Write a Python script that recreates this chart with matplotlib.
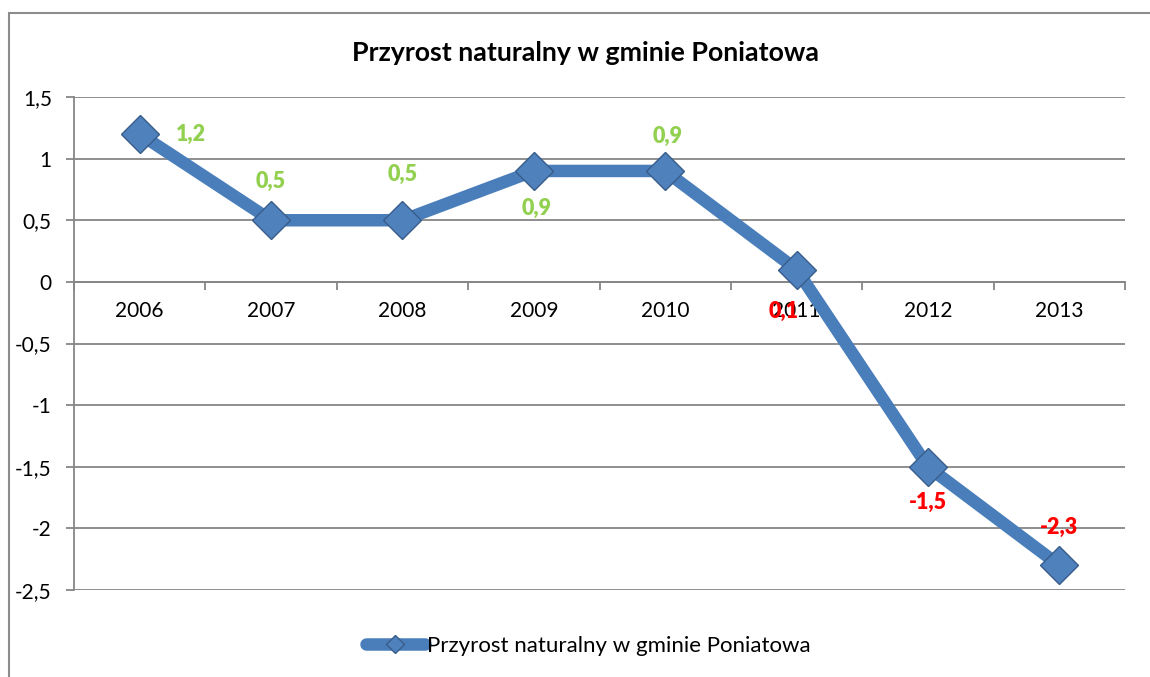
import matplotlib.pyplot as plt
import matplotlib.patches as patches
import numpy as np

plt.rcParams['font.family'] = ['Lato', 'DejaVu Sans']

years = ['2006', '2007', '2008', '2009', '2010', '2011', '2012', '2013']
values = [1.2, 0.5, 0.5, 0.9, 0.9, 0.1, -1.5, -2.3]
value_labels = ['1,2', '0,5', '0,5', '0,9', '0,9', '0,1', '-1,5', '-2,3']
label_colors = ['#92D050'] * 5 + ['#FF0000'] * 3
# label offsets in points (dx, dy)
label_offsets = [(37, 0), (0, 28), (0, 33), (2, -27), (2, 25), (-9, -30), (0, -26), (0, 27)]

series_name = 'Przyrost naturalny w gminie Poniatowa'

fig = plt.figure(figsize=(11.5, 6.77), dpi=100)
fig.patch.set_facecolor('white')

# outer chart border
fig.patches.append(patches.Rectangle((9 / 1150, -0.2), 1.2, 1.2 - 13 / 677,
                                     transform=fig.transFigure, fill=False,
                                     edgecolor='#8C8C8C', linewidth=1.5))

ax = fig.add_axes([74 / 1150, 1 - 590 / 677, (1125 - 74) / 1150, (590 - 97) / 677])

x = np.arange(len(years))
ax.set_xlim(-0.5, len(years) - 0.5)
ax.set_ylim(-2.5, 1.5)

ax.set_yticks(np.arange(-2.5, 1.51, 0.5))
ax.set_yticklabels(['-2,5', '-2', '-1,5', '-1', '-0,5', '0', '0,5', '1', '1,5'])
ax.yaxis.grid(True, color='#868686', linewidth=1.3)
ax.set_axisbelow(True)

for s in ['top', 'right']:
    ax.spines[s].set_visible(False)
ax.spines['left'].set_color('#868686')
ax.spines['left'].set_linewidth(1.3)
ax.spines['bottom'].set_position(('data', 0))
ax.spines['bottom'].set_color('#868686')
ax.spines['bottom'].set_linewidth(1.3)

ax.set_xticks(x)
ax.set_xticklabels(years)
ax.set_xticks(np.arange(-0.5, len(years), 1), minor=True)
ax.tick_params(axis='x', which='major', length=0, pad=14, labelsize=15)
ax.tick_params(axis='x', which='minor', length=6, color='#868686', width=1.3, direction='out')
ax.tick_params(axis='y', length=6, color='#868686', width=1.3, labelsize=15, pad=10)

ax.plot(x, values, color='#4A7EBB', linewidth=9, solid_capstyle='round',
        marker='D', markersize=19, markerfacecolor='#4F81BD',
        markeredgecolor='#385D8A', markeredgewidth=1, label=series_name, zorder=3)

for xi, v, lab, col, off in zip(x, values, value_labels, label_colors, label_offsets):
    ax.annotate(lab, (xi, v), xytext=off, textcoords='offset points',
                ha='center', va='center', color=col, fontsize=15.5,
                fontweight='heavy', zorder=4)

fig.text(586 / 1150, 1 - 53 / 677, 'Przyrost naturalny w gminie Poniatowa',
         fontsize=19.3, fontweight='bold', ha='center', va='center')

leg = fig.legend(loc='center', bbox_to_anchor=(588 / 1150, 1 - 646 / 677), frameon=False,
                 fontsize=16, handlelength=2.65, handletextpad=0.1, markerscale=0.5)

fig.savefig('out.png', dpi=100)
